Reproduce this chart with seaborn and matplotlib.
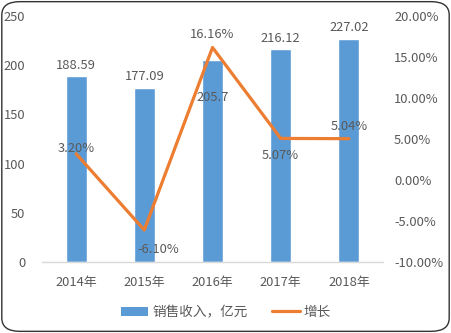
import matplotlib
matplotlib.use("Agg")
import matplotlib.pyplot as plt
from matplotlib.patches import FancyBboxPatch
from matplotlib.lines import Line2D
from matplotlib.patches import Patch
import seaborn as sns
import pandas as pd
import numpy as np

years = ["2014年", "2015年", "2016年", "2017年", "2018年"]
revenue = [188.59, 177.09, 205.7, 216.12, 227.02]
growth = [3.20, -6.10, 16.16, 5.07, 5.04]
bar_name = "销售收入，亿元"
line_name = "增长"

sns.set_theme(style="white")
plt.rcParams["font.family"] = ["Noto Sans CJK SC", "DejaVu Sans"]

BLUE = "#5B9BD5"
ORANGE = "#ED7D31"
TXT = "#595959"
FS = 9.3

fig = plt.figure(figsize=(4.51, 3.33), dpi=100)
ax = fig.add_axes([42 / 451, 1 - 262 / 333, 341 / 451, 246 / 333])

df = pd.DataFrame({"year": years, "revenue": revenue, "growth": growth})
sns.barplot(data=df, x="year", y="revenue", color=BLUE, width=0.31,
            saturation=1, ax=ax)
ax.set_ylim(0, 250)
ax.set_yticks(np.arange(0, 251, 50))
ax.set_xlim(-0.5, 4.5)
ax.set_xlabel("")
ax.set_ylabel("")
for s in ["top", "right", "left"]:
    ax.spines[s].set_visible(False)
ax.spines["bottom"].set_color("#D9D9D9")
ax.spines["bottom"].set_linewidth(1)
ax.tick_params(axis="both", length=0, colors=TXT, labelsize=FS)
ax.tick_params(axis="x", pad=10)
ax.tick_params(axis="y", pad=12)

# bar value labels
for i, v in enumerate(revenue):
    if i == 2:
        ax.annotate(f"{v:g}", (i, v), xytext=(0, -27), textcoords="offset points",
                    ha="center", va="center", fontsize=FS, color=TXT)
    else:
        ax.annotate(f"{v:g}", (i, v), xytext=(0, 8), textcoords="offset points",
                    ha="center", va="center", fontsize=FS, color=TXT)

ax2 = ax.twinx()
sns.lineplot(x=list(range(len(years))), y=growth, color=ORANGE, linewidth=2.3,
             ax=ax2, legend=False)
ax2.set_ylim(-10, 20)
ax2.set_yticks(np.arange(-10, 21, 5))
ax2.set_yticklabels([f"{t:.2f}%" for t in np.arange(-10, 21, 5)])
for s in ["top", "right", "left", "bottom"]:
    ax2.spines[s].set_visible(False)
ax2.tick_params(axis="y", length=0, colors=TXT, labelsize=FS, pad=8)
ax2.set_ylabel("")

offsets = [(0, 4), (10, -14), (0, 9), (0, -12), (0, 9)]
for i, (v, off) in enumerate(zip(growth, offsets)):
    ax2.annotate(f"{v:.2f}%", (i, v), xytext=off, textcoords="offset points",
                 ha="center", va="center", fontsize=FS, color=TXT)

handles = [Patch(facecolor=BLUE, edgecolor="none"),
           Line2D([0], [0], color=ORANGE, linewidth=2.3)]
fig.legend(handles, [bar_name, line_name], loc="center",
           bbox_to_anchor=(226 / 451, 1 - 312 / 333), ncol=2, frameon=False,
           fontsize=FS + 0.5, labelcolor=TXT, handlelength=2.0, handleheight=0.6,
           columnspacing=1.8, handletextpad=0.3)

border = FancyBboxPatch((0.004, 0.005), 0.992, 0.99,
                        boxstyle="round,pad=0,rounding_size=0.04",
                        transform=fig.transFigure, facecolor="none",
                        edgecolor="#333333", linewidth=1.0)
fig.patches.append(border)

fig.savefig("out.png", dpi=100)
